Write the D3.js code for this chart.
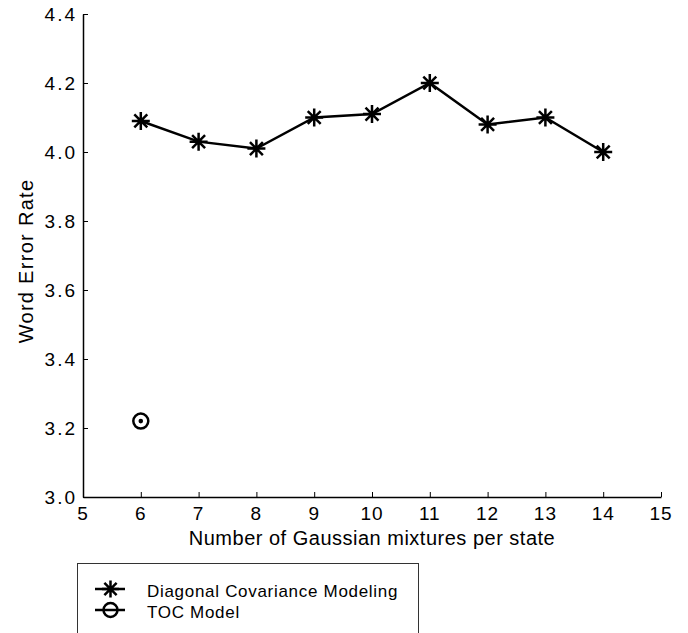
<meta charset="utf-8">
<html>
<head>
<style>
  body { margin: 0; background: #fff; }
  text { font-family: "Liberation Sans", Arial, sans-serif; }
</style>
</head>
<body>
<div id="chart"></div>
<script src="https://d3js.org/d3.v7.min.js"></script>
<script>

// data
var mixtures = [6, 7, 8, 9, 10, 11, 12, 13, 14];
var diagWER = [4.09, 4.03, 4.01, 4.10, 4.11, 4.20, 4.08, 4.10, 4.00];
var tocMixtures = [6];
var tocWER = [3.22];
var xTicks = [5, 6, 7, 8, 9, 10, 11, 12, 13, 14, 15];
var yTicks = [3.0, 3.2, 3.4, 3.6, 3.8, 4.0, 4.2, 4.4];
var legendLabels = ["Diagonal Covariance Modeling", "TOC Model"];

var width = 688, height = 633;
var margin = {top: 14, right: 27, bottom: 136, left: 83};

var svg = d3.select("#chart").append("svg")
    .attr("width", width)
    .attr("height", height);

var x = d3.scaleLinear().domain([5, 15]).range([margin.left, width - margin.right]);
var y = d3.scaleLinear().domain([3.0, 4.4]).range([height - margin.bottom, margin.top]);

// axes, ticks pointing inward
svg.append("g")
    .attr("transform", "translate(0," + y(3.0) + ")")
    .call(d3.axisTop(x).tickValues(xTicks).tickSize(5).tickSizeOuter(0).tickFormat(""));
svg.append("g")
    .attr("transform", "translate(" + x(5) + ",0)")
    .call(d3.axisRight(y).tickValues(yTicks).tickSize(5).tickSizeOuter(0).tickFormat(""));
svg.selectAll(".domain").attr("stroke", "#000").attr("stroke-width", 1.5);
svg.selectAll(".tick line").attr("stroke", "#000").attr("stroke-width", 1);

// tick labels
svg.append("g").selectAll("text")
  .data(xTicks).enter().append("text")
    .attr("x", function(d) { return x(d); })
    .attr("y", y(3.0) + 23)
    .attr("text-anchor", "middle")
    .style("font-size", "19px")
    .style("letter-spacing", "1px")
    .text(function(d) { return d; });

svg.append("g").selectAll("text")
  .data(yTicks).enter().append("text")
    .attr("x", x(5) - 6)
    .attr("y", function(d) { return y(d) + 7; })
    .attr("text-anchor", "end")
    .style("font-size", "19px")
    .style("letter-spacing", "2px")
    .text(function(d) { return d.toFixed(1); });

// axis titles
svg.append("text")
    .attr("x", (x(5) + x(15)) / 2)
    .attr("y", 545)
    .attr("text-anchor", "middle")
    .style("font-size", "20px")
    .style("letter-spacing", "0.5px")
    .text("Number of Gaussian mixtures per state");

svg.append("text")
    .attr("transform", "translate(33,261) rotate(-90)")
    .attr("text-anchor", "middle")
    .style("font-size", "20px")
    .style("letter-spacing", "1.3px")
    .text("Word Error Rate");

// asterisk marker
function asterisk(g, cx, cy, r) {
  var d = 0.72 * r;
  var p = "M" + (cx - r) + "," + cy + "H" + (cx + r) +
          "M" + cx + "," + (cy - r) + "V" + (cy + r) +
          "M" + (cx - d) + "," + (cy - d) + "L" + (cx + d) + "," + (cy + d) +
          "M" + (cx - d) + "," + (cy + d) + "L" + (cx + d) + "," + (cy - d);
  g.append("path").attr("d", p).attr("stroke", "#000").attr("stroke-width", 2.5).attr("fill", "none");
}

// diagonal covariance line
var line = d3.line()
    .x(function(d, i) { return x(mixtures[i]); })
    .y(function(d) { return y(d); });

svg.append("path")
    .datum(diagWER)
    .attr("d", line)
    .attr("fill", "none")
    .attr("stroke", "#000")
    .attr("stroke-width", 2.5);

var marks = svg.append("g");
diagWER.forEach(function(v, i) { asterisk(marks, x(mixtures[i]), y(v), 9); });

// TOC model point
tocWER.forEach(function(v, i) {
  marks.append("circle")
      .attr("cx", x(tocMixtures[i])).attr("cy", y(v)).attr("r", 7.5)
      .attr("fill", "none").attr("stroke", "#000").attr("stroke-width", 2.5);
  marks.append("circle")
      .attr("cx", x(tocMixtures[i])).attr("cy", y(v)).attr("r", 2.3)
      .attr("fill", "#000");
});

// legend
var leg = svg.append("g");
leg.append("rect")
    .attr("x", 77.5).attr("y", 563.5)
    .attr("width", 341).attr("height", 90)
    .attr("fill", "#fff").attr("stroke", "#333").attr("stroke-width", 1);

legendLabels.forEach(function(lab, i) {
  var ly = 589 + i * 21;
  leg.append("line")
      .attr("x1", 95).attr("x2", 125).attr("y1", ly).attr("y2", ly)
      .attr("stroke", "#000").attr("stroke-width", 2.5);
  if (i === 0) {
    asterisk(leg, 110.5, ly, 8.5);
  } else {
    leg.append("circle").attr("cx", 110.5).attr("cy", ly).attr("r", 7)
        .attr("fill", "none").attr("stroke", "#000").attr("stroke-width", 2.5);
  }
  leg.append("text")
      .attr("x", 147).attr("y", ly + 8)
      .style("font-size", "17px")
      .style("letter-spacing", "0.7px")
      .text(lab);
});

</script>
</body>
</html>
